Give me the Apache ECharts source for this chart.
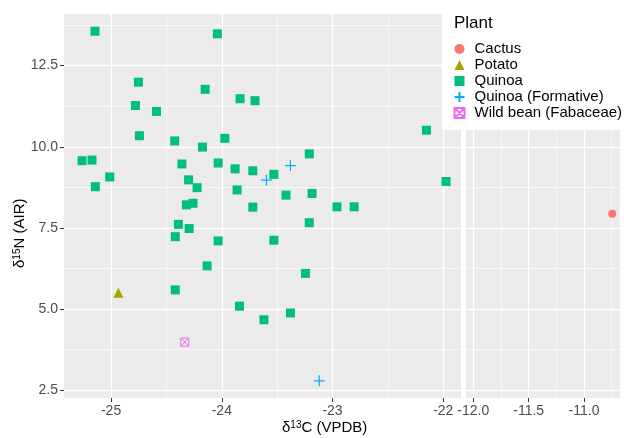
<!DOCTYPE html>
<html>
<head>
<meta charset="utf-8">
<script src="https://cdn.jsdelivr.net/npm/echarts@6/dist/echarts.min.js"></script>
<style>
  html, body { margin: 0; padding: 0; background: #fff; }
  #app1 { width: 624px; height: 438px; }
</style>
</head>
<body>
<div id="app1"></div>
<script>
// d13C / d15N values
const quinoaX = [-25.145, -24.04, -24.753, -24.78, -24.59, -24.744, -24.15, -23.835, -23.70, -24.425,
  -24.175, -23.973, -25.262, -25.172, -25.142, -25.012, -24.36, -24.033, -24.30, -23.88,
  -23.72, -23.53, -23.21, -24.223, -23.862, -23.42, -23.185, -24.32, -24.26, -23.72,
  -22.152, -21.975, -22.96, -22.805, -24.392, -24.295, -24.42, -24.033, -23.53, -23.21,
  -24.133, -23.245, -24.42, -23.84, -23.62, -23.38];
const quinoaY = [13.56, 13.48, 11.99, 11.27, 11.09, 10.34, 11.77, 11.48, 11.42, 10.18,
  9.99, 10.26, 9.57, 9.59, 8.77, 9.07, 9.47, 9.50, 8.98, 9.32,
  9.26, 9.15, 9.78, 8.74, 8.67, 8.51, 8.56, 8.21, 8.26, 8.14,
  10.51, 8.93, 8.15, 8.15, 7.61, 7.48, 7.23, 7.10, 7.12, 7.66,
  6.33, 6.10, 5.59, 5.09, 4.67, 4.88];
const formativeX = [-23.597, -23.38, -23.12];
const formativeY = [8.97, 9.42, 2.79];
const potatoX = [-24.934];
const potatoY = [5.50];
const beanX = [-24.334];
const beanY = [3.98];
const cactusX = [-10.745];
const cactusY = [7.94];

const xTicksLeft = [-25, -24, -23, -22];
const xMinorLeft = [-24.5, -23.5, -22.5];
const xTicksRight = [-12, -11.5, -11];
const xMinorRight = [-11.75, -11.25, -10.75];
const yTicks = [2.5, 5, 7.5, 10, 12.5];
const yMinor = [3.75, 6.25, 8.75, 11.25, 13.75];

const pts = (xs, ys) => xs.map((x, i) => [x, ys[i]]);

const grey = '#4D4D4D';
const font = 'Liberation Sans, Arial, sans-serif';
const yMin = 2.26, yMax = 14.09;

function majorX(grid, min, max, ticks, fmt) {
  return {
    type: 'value', gridIndex: grid, min: min, max: max, position: 'bottom',
    axisLine: { show: false },
    axisTick: { show: true, length: 4, customValues: ticks, lineStyle: { color: '#333', width: 1 } },
    axisLabel: { customValues: ticks, color: grey, fontSize: 14, fontFamily: font, margin: 6, formatter: fmt },
    splitLine: { show: true, lineStyle: { color: '#fff', width: 1.3 } }
  };
}
function minorX(grid, min, max, ticks) {
  return {
    type: 'value', gridIndex: grid, min: min, max: max, position: 'bottom',
    axisLine: { show: false }, axisLabel: { show: false },
    axisTick: { show: false, customValues: ticks },
    splitLine: { show: true, lineStyle: { color: '#fff', width: 0.6 } }
  };
}
function majorY(grid, labels) {
  return {
    type: 'value', gridIndex: grid, min: yMin, max: yMax, position: 'left',
    axisLine: { show: false },
    axisTick: { show: labels, length: 4, customValues: yTicks, lineStyle: { color: '#333', width: 1 } },
    axisLabel: { show: labels, customValues: yTicks, color: grey, fontSize: 14, fontFamily: font, margin: 6,
      formatter: v => v.toFixed(1) },
    splitLine: { show: true, lineStyle: { color: '#fff', width: 1.3 } }
  };
}
function minorY(grid) {
  return {
    type: 'value', gridIndex: grid, min: yMin, max: yMax, position: 'left',
    axisLine: { show: false }, axisLabel: { show: false },
    axisTick: { show: false, customValues: yMinor },
    splitLine: { show: true, lineStyle: { color: '#fff', width: 0.6 } }
  };
}

const plusPath = 'path://M5 0 L5 10 M0 5 L10 5';
const boxXPath = 'path://M0 0 L10 0 L10 10 L0 10 Z M0 0 L10 10 M10 0 L0 10';

const option = {
  animation: false,
  backgroundColor: '#fff',
  textStyle: { fontFamily: font },
  title: {
    text: 'Plant', left: 449, top: 10,
    textStyle: { fontSize: 17, fontWeight: 'normal', color: '#000', fontFamily: font }
  },
  grid: [
    { left: 64, top: 14, width: 397, height: 384, show: true, backgroundColor: '#EBEBEB', borderWidth: 0 },
    { left: 466, top: 14, width: 154, height: 384, show: true, backgroundColor: '#EBEBEB', borderWidth: 0 }
  ],
  xAxis: [
    minorX(0, -25.425, -21.84, xMinorLeft),
    majorX(0, -25.425, -21.84, xTicksLeft, v => String(v)),
    minorX(1, -12.066, -10.675, xMinorRight),
    majorX(1, -12.066, -10.675, xTicksRight, v => v.toFixed(1))
  ],
  yAxis: [minorY(0), majorY(0, true), minorY(1), majorY(1, false)],
  legend: {
    orient: 'vertical', left: 442, top: 0,
    padding: [41, 10, 9, 10],
    backgroundColor: '#fff',
    itemWidth: 10, itemHeight: 10, itemGap: 0,
    textStyle: { fontSize: 15, color: '#000', lineHeight: 16, fontFamily: font, padding: [0, 0, 0, 5] },
    data: ['Cactus', 'Potato', 'Quinoa', 'Quinoa (Formative)', 'Wild bean (Fabaceae)']
  },
  series: [
    {
      name: 'Cactus', type: 'scatter', xAxisIndex: 3, yAxisIndex: 3,
      symbol: 'circle', symbolSize: 8, itemStyle: { color: '#F8766D', opacity: 1 },
      data: pts(cactusX, cactusY)
    },
    {
      name: 'Potato', type: 'scatter', xAxisIndex: 1, yAxisIndex: 1,
      symbol: 'triangle', symbolSize: 10, itemStyle: { color: '#A3A500', opacity: 1 },
      data: pts(potatoX, potatoY)
    },
    {
      name: 'Quinoa', type: 'scatter', xAxisIndex: 1, yAxisIndex: 1,
      symbol: 'rect', symbolSize: 9, itemStyle: { color: '#00BF7D', opacity: 1 },
      data: pts(quinoaX, quinoaY)
    },
    {
      name: 'Quinoa (Formative)', type: 'scatter', xAxisIndex: 1, yAxisIndex: 1,
      symbol: plusPath, symbolSize: 11,
      itemStyle: { color: 'none', borderColor: '#00B0F6', borderWidth: 1.2, opacity: 1 },
      data: pts(formativeX, formativeY)
    },
    {
      name: 'Wild bean (Fabaceae)', type: 'scatter', xAxisIndex: 1, yAxisIndex: 1,
      symbol: boxXPath, symbolSize: 8,
      itemStyle: { color: 'none', borderColor: '#E76BF3', borderWidth: 1, opacity: 1 },
      data: pts(beanX, beanY)
    }
  ],
  graphic: [
    {
      type: 'text', left: 282, top: 420,
      style: {
        text: '{a|δ}{s|13}{a|C (VPDB)}', fill: '#000',
        rich: {
          a: { fontSize: 15, fontFamily: font, fill: '#000' },
          s: { fontSize: 10, fontFamily: font, fill: '#000', verticalAlign: 'top', padding: [0, 0, 6, 0] }
        }
      }
    },
    {
      type: 'text', x: 12, y: 268, rotation: Math.PI / 2,
      style: {
        text: '{a|δ}{s|15}{a|N (AIR)}', fill: '#000',
        rich: {
          a: { fontSize: 15, fontFamily: font, fill: '#000' },
          s: { fontSize: 10, fontFamily: font, fill: '#000', verticalAlign: 'top', padding: [0, 0, 6, 0] }
        }
      }
    }
  ]
};

echarts.init(document.getElementById('app1')).setOption(option);
</script>
</body>
</html>
